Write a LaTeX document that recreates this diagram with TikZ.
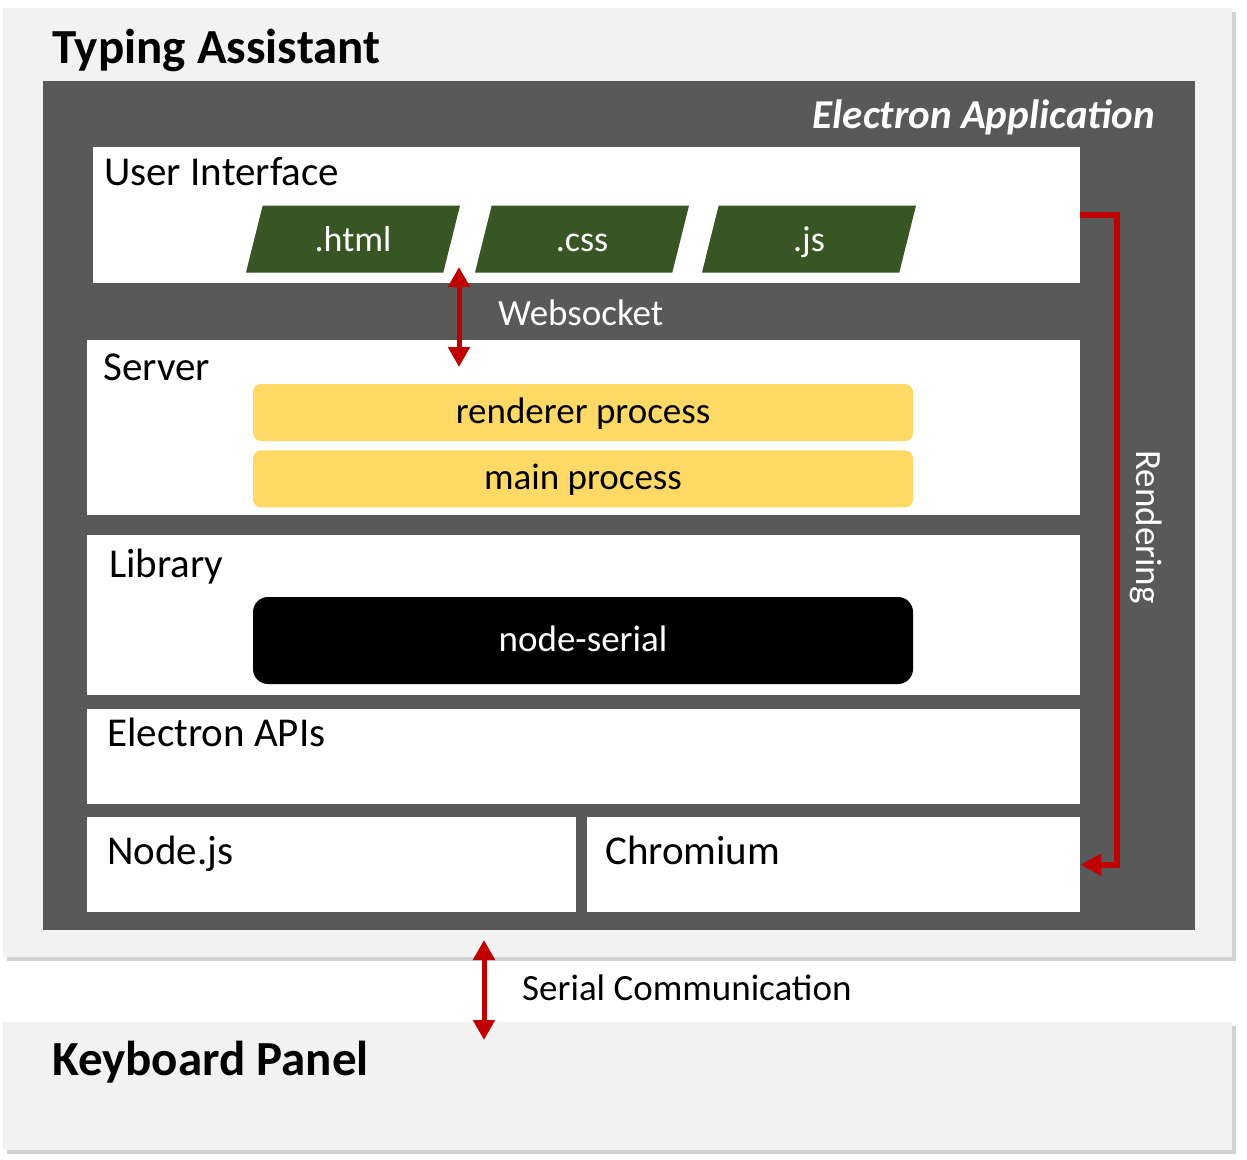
\documentclass[tikz,border=0pt]{standalone}
\usepackage{fontspec}
\setmainfont{Carlito}
\usepackage{tikz}
\usetikzlibrary{positioning}
\usetikzlibrary{shapes.geometric}
\usetikzlibrary{arrows.meta}
\usetikzlibrary{shadows}

\definecolor{appgray}{HTML}{595959}
\definecolor{panelgray}{HTML}{F2F2F2}
\definecolor{filegreen}{HTML}{375623}
\definecolor{procyellow}{HTML}{FFD966}
\definecolor{linkred}{HTML}{C00000}

\begin{document}
\begin{tikzpicture}[x=1pt, y=-1pt,
                          panel/.style={rectangle, fill=panelgray, anchor=north west, inner sep=0, drop shadow={shadow xshift=4pt, shadow yshift=-4pt, opacity=0.35}},
                          appbox/.style={rectangle, fill=appgray, anchor=north west, inner sep=0},
                          layer/.style={rectangle, fill=white, anchor=north west, inner sep=0},
                          filenode/.style={trapezium, trapezium left angle=76, trapezium right angle=104, trapezium stretches body=true, fill=filegreen, text=white, minimum width=214pt, minimum height=67pt, inner sep=0, text height=46pt, text depth=21pt, font=\fontsize{36pt}{43pt}\selectfont},
                          procnode/.style={rectangle, rounded corners=8pt, fill=procyellow, minimum width=660pt, minimum height=57pt, inner sep=0, text height=30pt, text depth=8pt, font=\fontsize{37pt}{44pt}\selectfont},
                          serialnode/.style={rectangle, rounded corners=15pt, fill=black, text=white, minimum width=660pt, minimum height=87pt, inner sep=0, text height=30pt, text depth=8pt, font=\fontsize{37pt}{44pt}\selectfont},
                          titletext/.style={anchor=base west, inner sep=0, font=\bfseries\fontsize{49pt}{59pt}\selectfont},
                          layertext/.style={anchor=base west, inner sep=0, font=\fontsize{41pt}{49pt}\selectfont},
                          linktext/.style={anchor=base west, inner sep=0, font=\fontsize{37pt}{44pt}\selectfont},
                          link/.style={linkred, line width=5pt, {Triangle[length=20pt, width=21pt]}-{Triangle[length=20pt, width=21pt]}},
                      ]
                      \fill[white] (0,0) rectangle (1247,1159);
                      \useasboundingbox (0,0) rectangle (1247,1159);

                      %Nodes
                      \node[panel, minimum width=1229pt, minimum height=949pt]   (assistant)  at (3,8)      {};
                      \node[panel, minimum width=1229pt, minimum height=128pt]   (keyboard)   at (3,1022)   {};
                      \node[appbox, minimum width=1152pt, minimum height=849pt]  (app)        at (43,81)    {};

                      \node[layer, minimum width=987pt, minimum height=136pt]    (ui)         at (93,147)   {};
                      \node[layer, minimum width=993pt, minimum height=175pt]    (server)     at (87,340)   {};
                      \node[layer, minimum width=993pt, minimum height=160pt]    (library)    at (87,535)   {};
                      \node[layer, minimum width=993pt, minimum height=95pt]     (apis)       at (87,709)   {};
                      \node[layer, minimum width=489pt, minimum height=95pt]     (nodejs)     at (87,817)   {};
                      \node[layer, minimum width=493pt, minimum height=95pt]     (chromium)   at (587,817)  {};

                      \node[filenode]       (html)       at (353,239)    {.html};
                      \node[filenode]       (css)        at (582,239)    {.css};
                      \node[filenode]       (js)         at (809,239)    {.js};

                      \node[procnode]       (renderer)   at (583,412.5)  {renderer process};
                      \node[procnode]       (main)       [below=9pt of renderer]   {main process};
                      \node[serialnode]     (nodeserial) at (583,640.5)  {node-serial};

                      \node[titletext]      (assistanttitle)  at (52,63)     {Typing Assistant};
                      \node[titletext]      (keyboardtitle)   at (52,1075)   {Keyboard Panel};
                      \node[anchor=base east, inner sep=0, text=white, font=\bfseries\itshape\fontsize{41pt}{49pt}\selectfont] (apptitle) at (1155,128) {Electron Application};
                      \node[layertext]      (uitext)        at (104,185)   {User Interface};
                      \node[layertext]      (servertext)    at (103,380)   {Server};
                      \node[layertext]      (librarytext)   at (109,577)   {Library};
                      \node[layertext]      (apistext)      at (107,746)   {Electron APIs};
                      \node[layertext]      (nodejstext)    at (107,864)   {Node.js};
                      \node[layertext]      (chromiumtext)  at (605,864)   {Chromium};
                      \node[linktext, text=white]  (websockettext)  at (498,325)   {Websocket};
                      \node[linktext]              (serialtext)     at (522,1000)  {Serial Communication};
                      \node[inner sep=0, text=white, rotate=-90, font=\fontsize{37pt}{44pt}\selectfont] (renderingtext) at (1146,527) {Rendering};

                      \coordinate (ws_top)     at (459,267);
                      \coordinate (ws_bottom)  at (459,367);
                      \coordinate (serial_top)    at (484,940);
                      \coordinate (serial_bottom) at (484,1040);

                      %Lines
                      \draw[link] (ws_top) -- (ws_bottom);
                      \draw[link] (serial_top) -- (serial_bottom);
                      \draw[linkred, line width=6pt, -{Triangle[length=21pt, width=21pt]}] (ui.east) -- ++(37,0) |- (chromium.east);
                  \end{tikzpicture}
\end{document}
